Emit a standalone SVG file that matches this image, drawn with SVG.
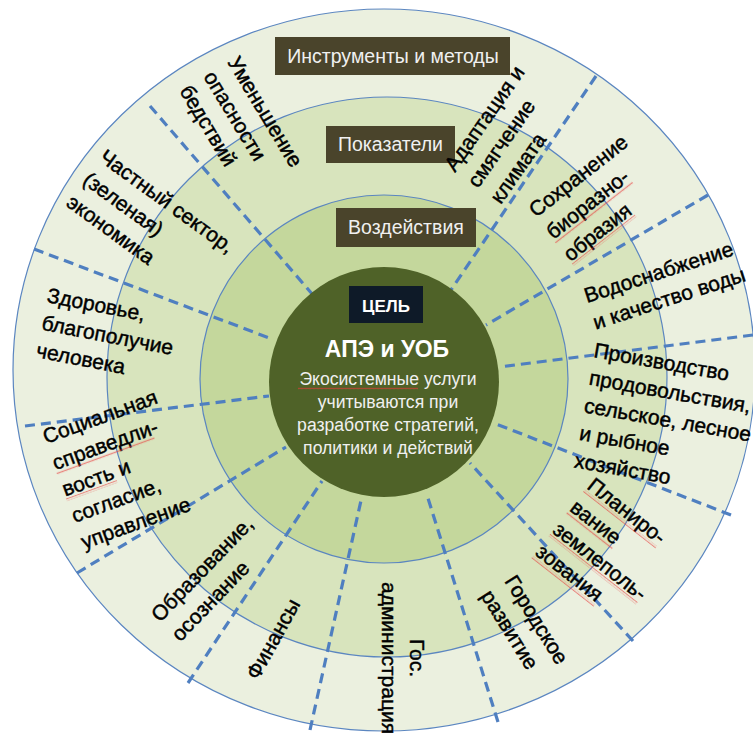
<svg xmlns="http://www.w3.org/2000/svg" width="753" height="733" viewBox="0 0 753 733">
<style>
.ring{stroke:#5b86c0;stroke-width:1.2}
.dash{stroke:#4f7fc0;stroke-width:3.2;stroke-dasharray:10 6;fill:none}
.lbl{font-family:"Liberation Sans",Arial,sans-serif;font-size:21px;fill:#000;stroke:#000;stroke-width:0.45px}
.box{fill:#4a442b}
.boxt{font-family:"Liberation Sans",Arial,sans-serif;font-size:19.5px;fill:#f0f0f0;text-anchor:middle}
.ct{font-family:"Liberation Sans",Arial,sans-serif;font-size:17.6px;fill:#f0f0f0;text-anchor:middle}
</style>
<defs>
<pattern id="sq" patternUnits="userSpaceOnUse" width="4" height="3">
<path d="M0,2.2 L1,0.8 L2,2.2 L3,0.8 L4,2.2" stroke="#e83a3a" stroke-width="0.6" fill="none"/>
</pattern>
</defs>
<rect width="753" height="733" fill="#ffffff"/>
<g id="rings">
<ellipse class="ring" cx="384" cy="370" rx="371" ry="361" fill="#ebf0df"/>
<circle class="ring" cx="387" cy="377" r="280" fill="#d8e4bd"/>
<circle class="ring" cx="384" cy="379" r="184" fill="#c4d79c"/>
</g>
<g id="connectors">
<line class="dash" x1="150" y1="106" x2="313" y2="295"/>
<line class="dash" x1="34" y1="249" x2="272" y2="339"/>
<line class="dash" x1="25" y1="426" x2="269" y2="396"/>
<line class="dash" x1="77" y1="573" x2="286" y2="447"/>
<line class="dash" x1="188" y1="683" x2="322" y2="481"/>
<line class="dash" x1="310" y1="730" x2="362" y2="496"/>
<line class="dash" x1="498" y1="722" x2="427" y2="495"/>
<line class="dash" x1="633" y1="641" x2="470" y2="463"/>
<line class="dash" x1="731" y1="515" x2="496" y2="424"/>
<line class="dash" x1="753" y1="335" x2="499" y2="367"/>
<line class="dash" x1="708" y1="195" x2="486" y2="325"/>
<line class="dash" x1="596" y1="76" x2="451" y2="290"/>
</g>
<g id="goal">
<circle cx="384" cy="382" r="115" fill="#4f6228"/>
<rect x="349" y="286" width="74" height="37" fill="#0e1a28"/>
<text x="386" y="312" font-family="Liberation Sans,Arial,sans-serif" font-size="17" font-weight="bold" fill="#ffffff" text-anchor="middle">ЦЕЛЬ</text>
<text x="387" y="357" font-family="Liberation Sans,Arial,sans-serif" font-size="23" font-weight="bold" fill="#ffffff" text-anchor="middle">АПЭ и УОБ</text>
<text class="ct" x="388" y="385">Экосистемные услуги</text>
<text class="ct" x="388" y="408">учитываются при</text>
<text class="ct" x="388" y="431">разработке стратегий,</text>
<text class="ct" x="388" y="454">политики и действий</text>
<rect x="298" y="387" width="120" height="3" fill="url(#sq)"/>
</g>
<g id="box-instruments">
<rect class="box" x="275" y="37" width="235" height="38"/>
<text class="boxt" x="393" y="63">Инструменты и методы</text>
</g>
<g id="box-indicators">
<rect class="box" x="326" y="126" width="129" height="37"/>
<text class="boxt" x="390.5" y="151">Показатели</text>
</g>
<g id="box-impacts">
<rect class="box" x="336" y="208" width="140" height="39"/>
<text class="boxt" x="406" y="234">Воздействия</text>
</g>
<g id="s-disaster" transform="translate(227,62) rotate(59)">
<text class="lbl"><tspan x="0" y="0">Уменьшение</tspan><tspan x="0" y="28">опасности</tspan><tspan x="0" y="56">бедствий</tspan></text>
</g>
<g id="s-private" transform="translate(98,160) rotate(36)">
<text class="lbl"><tspan x="0" y="0">Частный сектор,</tspan><tspan x="0" y="28">(зеленая)</tspan><tspan x="0" y="56">экономика</tspan></text>
</g>
<g id="s-health" transform="translate(46,302) rotate(11)">
<text class="lbl"><tspan x="0" y="0">Здоровье,</tspan><tspan x="0" y="28">благополучие</tspan><tspan x="0" y="56">человека</tspan></text>
</g>
<g id="s-social" transform="translate(46,444) rotate(-20)">
<text class="lbl"><tspan x="0" y="0">Социальная</tspan><tspan x="0" y="28">справедли-</tspan><tspan x="0" y="56">вость и</tspan><tspan x="0" y="84">согласие,</tspan><tspan x="0" y="112">управление</tspan></text>
<rect x="0" y="30" width="104" height="3" fill="url(#sq)"/>
<rect x="0" y="58" width="54" height="3" fill="url(#sq)"/>
</g>
<g id="s-education" transform="translate(160,623) rotate(-46)">
<text class="lbl"><tspan x="0" y="0">Образование,</tspan><tspan x="0" y="28">осознание</tspan></text>
</g>
<g id="s-finance" transform="translate(258,681) rotate(-61)">
<text class="lbl">Финансы</text>
</g>
<g id="s-admin" transform="translate(410,658) rotate(90)">
<text class="lbl" text-anchor="middle"><tspan x="0" y="0">Гос.</tspan><tspan x="0" y="28">администрация</tspan></text>
</g>
<g id="s-urban" transform="translate(504,581) rotate(58)">
<text class="lbl"><tspan x="0" y="0">Городское</tspan><tspan x="0" y="28">развитие</tspan></text>
</g>
<g id="s-land" transform="translate(586,488) rotate(38)">
<text class="lbl"><tspan x="0" y="0">Планиро-</tspan><tspan x="0" y="28">вание</tspan><tspan x="0" y="56">землеполь-</tspan><tspan x="0" y="84">зования</tspan></text>
<rect x="0" y="2" width="92" height="3" fill="url(#sq)"/>
<rect x="0" y="30" width="58" height="3" fill="url(#sq)"/>
<rect x="0" y="58" width="111" height="3" fill="url(#sq)"/>
<rect x="0" y="86" width="79" height="3" fill="url(#sq)"/>
</g>
<g id="s-food" transform="translate(593,357) rotate(10)">
<text class="lbl"><tspan x="0" y="0">Производство</tspan><tspan x="0" y="28">продовольствия,</tspan><tspan x="0" y="56">сельское, лесное</tspan><tspan x="0" y="84">и рыбное</tspan><tspan x="0" y="112">хозяйство</tspan></text>
</g>
<g id="s-water" transform="translate(587,303) rotate(-18)">
<text class="lbl"><tspan x="0" y="0">Водоснабжение</tspan><tspan x="0" y="28">и качество воды</tspan></text>
</g>
<g id="s-biodiv" transform="translate(536,218) rotate(-38)">
<text class="lbl"><tspan x="0" y="0">Сохранение</tspan><tspan x="0" y="28">биоразно-</tspan><tspan x="0" y="56">образия</tspan></text>
<rect x="0" y="30" width="98" height="3" fill="url(#sq)"/>
<rect x="0" y="58" width="80" height="3" fill="url(#sq)"/>
</g>
<g id="s-climate" transform="translate(455,173) rotate(-55)">
<text class="lbl"><tspan x="0" y="0">Адаптация и</tspan><tspan x="0" y="28">смягчение</tspan><tspan x="0" y="56">климата</tspan></text>
</g>
</svg>
